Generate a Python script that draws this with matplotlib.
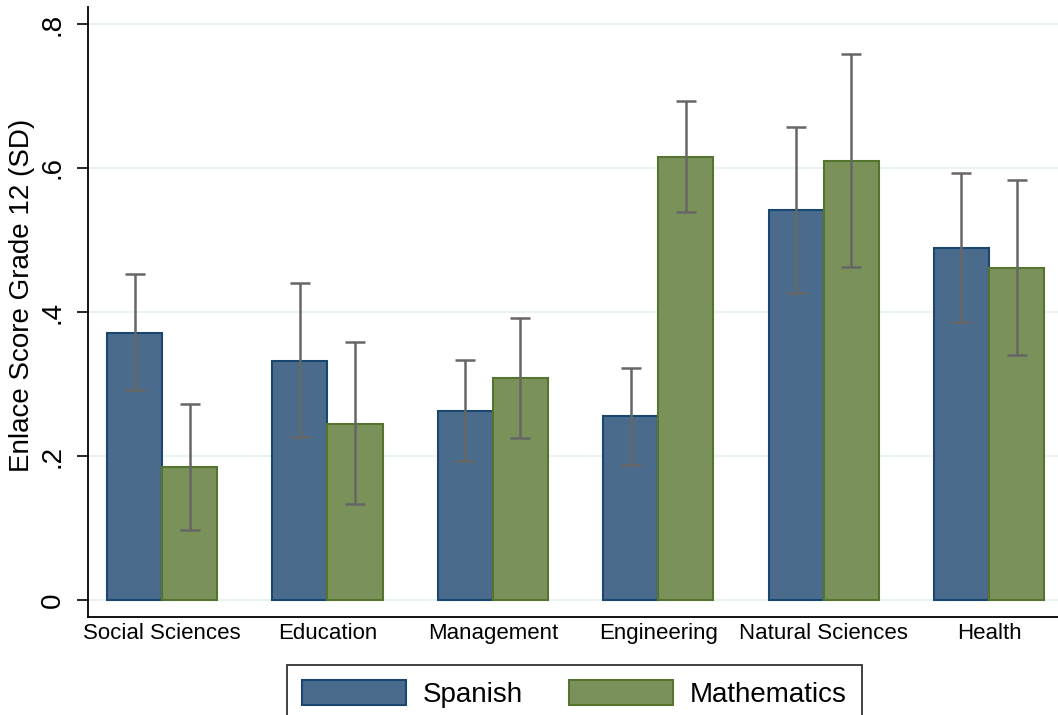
import matplotlib
matplotlib.use("Agg")
import matplotlib.pyplot as plt
import numpy as np

plt.rcParams['font.family'] = ['Liberation Sans', 'DejaVu Sans']

fields = ["Social Sciences", "Education", "Management", "Engineering",
          "Natural Sciences", "Health"]

spanish_mean = [0.371, 0.332, 0.2625, 0.256, 0.542, 0.489]
spanish_lo = [0.292, 0.226, 0.193, 0.1875, 0.426, 0.386]
spanish_hi = [0.453, 0.440, 0.333, 0.322, 0.657, 0.593]

math_mean = [0.185, 0.244, 0.308, 0.615, 0.610, 0.461]
math_lo = [0.097, 0.133, 0.225, 0.539, 0.4625, 0.340]
math_hi = [0.272, 0.358, 0.392, 0.693, 0.758, 0.583]

y_ticks = [0, 0.2, 0.4, 0.6, 0.8]
y_tick_labels = ["0", ".2", ".4", ".6", ".8"]

spanish_fill, spanish_edge = "#4a6b8c", "#1a476f"
math_fill, math_edge = "#7a9259", "#55752f"
err_color = "#666666"

fig = plt.figure(figsize=(10.58, 7.15), dpi=100)
ax = fig.add_axes([88 / 1058, 98 / 715, 1 - 88 / 1058, 610 / 715])

x = np.arange(len(fields))
w = 0.333

ax.bar(x - w / 2, spanish_mean, width=w, color=spanish_fill,
       edgecolor=spanish_edge, linewidth=1.5, label="Spanish", zorder=2)
ax.bar(x + w / 2, math_mean, width=w, color=math_fill,
       edgecolor=math_edge, linewidth=1.5, label="Mathematics", zorder=2)

def draw_ci(xpos, mean, lo, hi):
    mean = np.asarray(mean)
    yerr = np.vstack([mean - np.asarray(lo), np.asarray(hi) - mean])
    ax.errorbar(xpos, mean, yerr=yerr, fmt="none", ecolor=err_color,
                elinewidth=1.8, capsize=7.5, capthick=1.8, zorder=3)

draw_ci(x - w / 2, spanish_mean, spanish_lo, spanish_hi)
draw_ci(x + w / 2, math_mean, math_lo, math_hi)

ax.set_xlim(-0.448, 5.417)
ax.set_ylim(-0.0236, 0.8236)

ax.set_yticks(y_ticks)
ax.set_yticklabels(y_tick_labels, rotation=90, va="center", fontsize=20)
ax.set_xticks(x)
ax.set_xticklabels(fields, fontsize=16)
ax.tick_params(axis="x", length=0, pad=4)
ax.tick_params(axis="y", length=8, width=1.2, pad=8)

ax.grid(axis="y", color="#eaf2f3", linewidth=1.6, zorder=0)
ax.set_axisbelow(True)

for s in ["top", "right"]:
    ax.spines[s].set_visible(False)
for s in ["left", "bottom"]:
    ax.spines[s].set_linewidth(1.3)
    ax.spines[s].set_color("black")

ax.set_ylabel("Enlace Score Grade 12 (SD)", fontsize=20)
ax.yaxis.set_label_coords(35 / 1058, 0.587, transform=fig.transFigure)

handles, labels = ax.get_legend_handles_labels()
leg = fig.legend(handles, labels, loc="upper center", ncol=2,
                 bbox_to_anchor=(574.5 / 1058, 50 / 715), fontsize=20,
                 frameon=True, fancybox=False, shadow=False,
                 handlelength=3.75, handleheight=1.0, handletextpad=0.6,
                 columnspacing=1.65, borderpad=0.55, borderaxespad=0)
leg.get_frame().set_edgecolor("black")
leg.get_frame().set_linewidth(1.3)

fig.savefig("out.png", dpi=100)
